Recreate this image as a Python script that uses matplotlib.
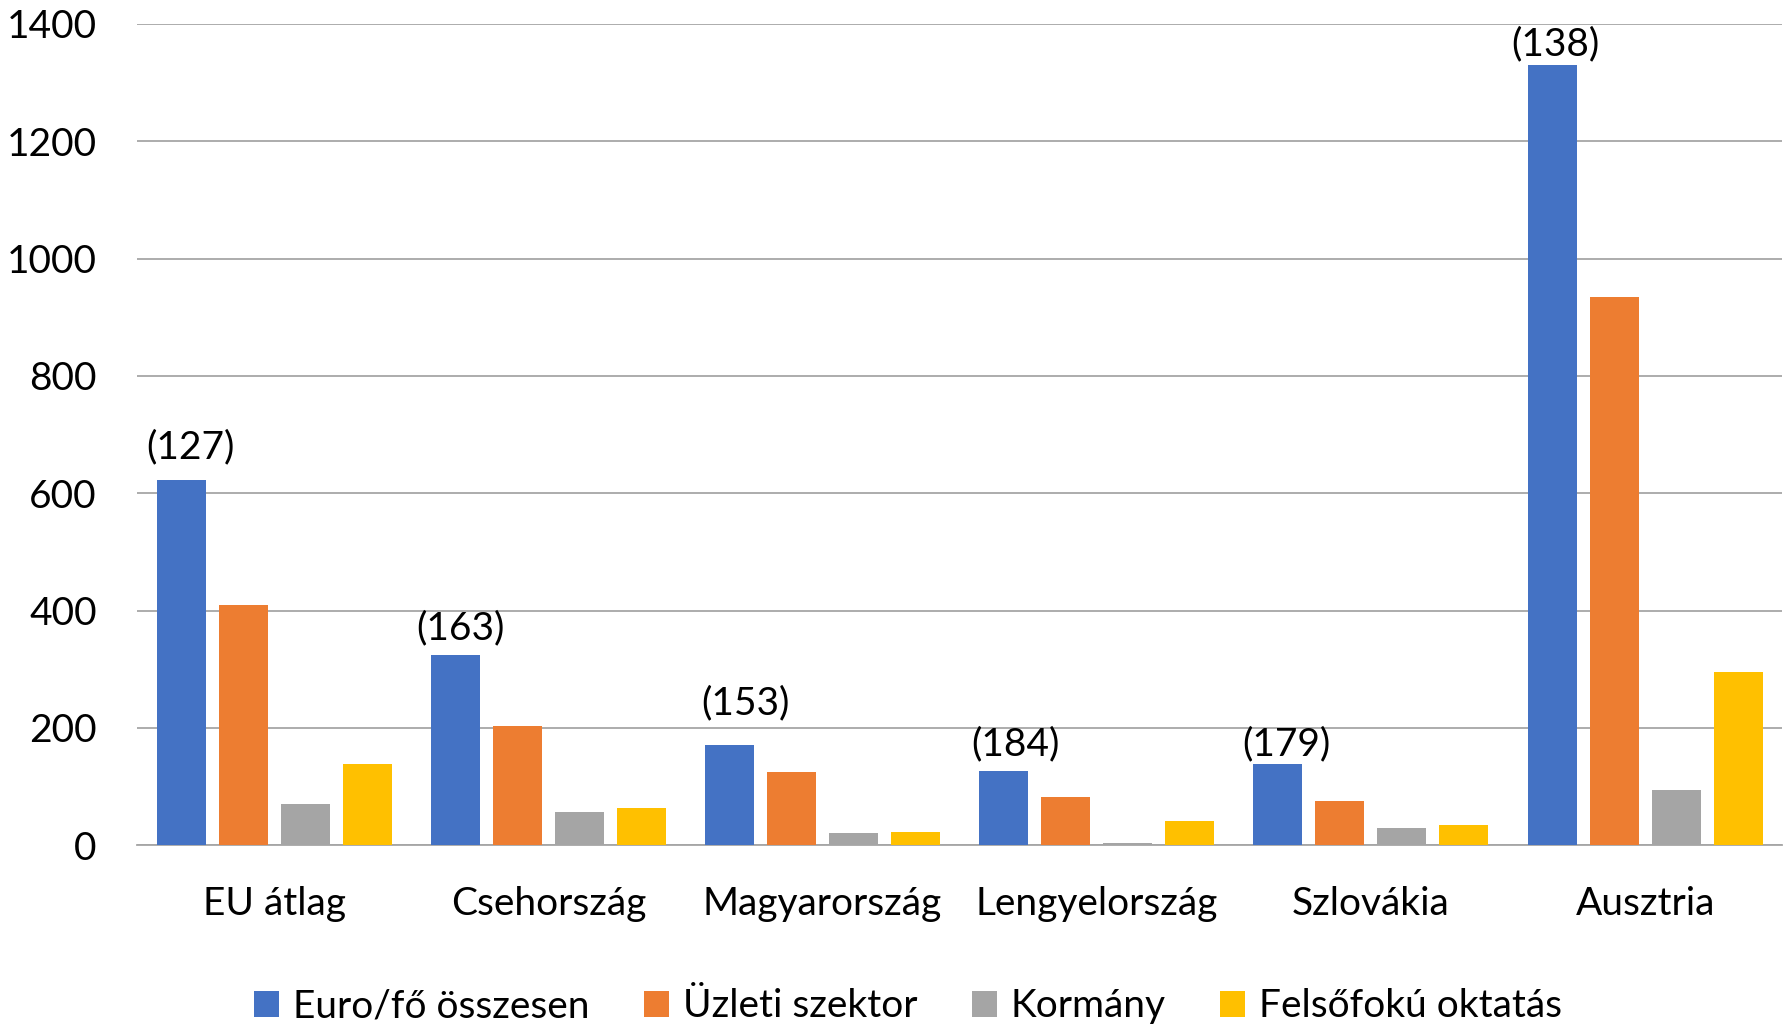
import matplotlib.pyplot as plt
import numpy as np
from matplotlib.patches import Patch

plt.rcParams['font.family'] = ['Lato', 'DejaVu Sans']

# data
countries = ["EU átlag", "Csehország", "Magyarország", "Lengyelország", "Szlovákia", "Ausztria"]
series_names = ["Euro/fő összesen", "Üzleti szektor", "Kormány", "Felsőfokú oktatás"]
total = [622, 325, 171, 127, 138, 1330]
business = [409, 204, 125, 82, 75, 935]
government = [70, 56, 21, 4, 29, 94]
higher_edu = [139, 64, 23, 42, 34, 295]
rank_labels = ["(127)", "(163)", "(153)", "(184)", "(179)", "(138)"]

colors = ["#4472c4", "#ed7d31", "#a5a5a5", "#ffc000"]
# the rank labels were nudged by hand in the original, offsets in points
label_dx = [7, 3.7, 11.5, 8.6, 6.2, 2.5]
label_dy = [11, 6.3, 17, 6.3, 1.4, 2.2]

fig = plt.figure(figsize=(17.89, 10.28), dpi=100)
ax = fig.add_axes([0.0766, 0.1777, 0.9196, 0.7990])

x = np.arange(len(countries))
step = 0.226
width = 0.179
all_series = [total, business, government, higher_edu]
for i, vals in enumerate(all_series):
    ax.bar(x + (i - 1.5) * step, vals, width, color=colors[i], zorder=3)

# rank labels above the blue bars
for xi, v, lab, dx, dy in zip(x, total, rank_labels, label_dx, label_dy):
    ax.annotate(lab, (xi - 1.5 * step, v), xytext=(dx, dy), textcoords="offset points",
                ha="center", va="bottom", fontsize=28)

ax.set_xlim(-0.5, len(countries) - 0.5)
ax.set_ylim(0, 1400)
ax.set_yticks(range(0, 1401, 200))
ax.set_xticks(x)
ax.set_xticklabels(countries)
ax.tick_params(axis="y", length=0, labelsize=28, pad=29)
ax.tick_params(axis="x", length=0, labelsize=28, pad=29)
ax.yaxis.grid(True, color="#a6a6a6", linewidth=1.3, zorder=0)
for s in ["top", "right", "left"]:
    ax.spines[s].set_visible(False)
ax.spines["bottom"].set_color("#a6a6a6")
ax.spines["bottom"].set_linewidth(1.3)
ax.spines["bottom"].set_zorder(2)

handles = [Patch(facecolor=c, edgecolor="none") for c in colors]
fig.legend(handles, series_names, loc="center", bbox_to_anchor=(0.5076, 0.021),
           ncol=4, frameon=False, fontsize=28, handlelength=0.65, handleheight=0.65,
           handletextpad=0.35, columnspacing=1.4)

fig.savefig("out.png", dpi=100)
